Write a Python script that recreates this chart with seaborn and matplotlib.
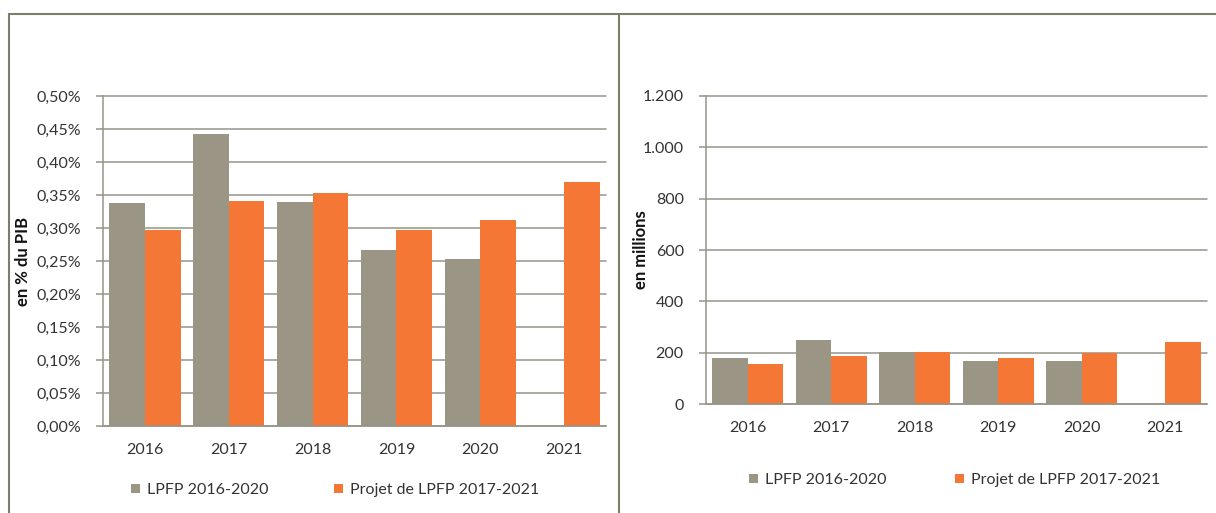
import numpy as np
import pandas as pd
import matplotlib
matplotlib.use("Agg")
import matplotlib.pyplot as plt
import seaborn as sns
from matplotlib.lines import Line2D
from matplotlib.patches import Patch
from matplotlib.ticker import FuncFormatter, FixedLocator

# ---- data ----
years = ["2016", "2017", "2018", "2019", "2020", "2021"]
series_names = ["LPFP 2016-2020", "Projet de LPFP 2017-2021"]
pct_lpfp_2016 = [0.338, 0.442, 0.339, 0.267, 0.253, np.nan]
pct_projet_2017 = [0.2965, 0.3405, 0.3535, 0.2975, 0.312, 0.370]
mio_lpfp_2016 = [179, 248, 204, 169, 169, np.nan]
mio_projet_2017 = [156, 186, 204, 179, 199, 241]
left_ticks = [0.00, 0.05, 0.10, 0.15, 0.20, 0.25, 0.30, 0.35, 0.40, 0.45, 0.50]
right_ticks = [0, 200, 400, 600, 800, 1000, 1200]

def make_df(a, b):
    rows = []
    for y, v in zip(years, a):
        rows.append({"year": y, "series": series_names[0], "value": v})
    for y, v in zip(years, b):
        rows.append({"year": y, "series": series_names[1], "value": v})
    return pd.DataFrame(rows)

df_pct = make_df(pct_lpfp_2016, pct_projet_2017)
df_mio = make_df(mio_lpfp_2016, mio_projet_2017)

sns.set_theme(style="white")
plt.rcParams["font.family"] = ["Lato", "DejaVu Sans"]

GREY = "#9B9585"
ORANGE = "#F47735"
GRID = "#95958A"
FRAME = "#7D7D6E"
TXT = "#333333"
palette = {series_names[0]: GREY, series_names[1]: ORANGE}

W, H = 1216, 513
fig = plt.figure(figsize=(W / 100, H / 100), dpi=100)

def px_axes(x0, x1, ytop, ybot):
    return fig.add_axes([x0 / W, (H - ybot) / H, (x1 - x0) / W, (ybot - ytop) / H])

axL = px_axes(103, 606, 96, 426)
axR = px_axes(706, 1207, 96, 404)

def style(ax, df, ticks, fmt):
    sns.barplot(data=df, x="year", y="value", hue="series", hue_order=series_names,
                order=years, palette=palette, width=0.85, gap=0, ax=ax,
                saturation=1, errorbar=None, legend=False, edgecolor="none")
    ax.set_xlim(-0.5, len(years) - 0.5)
    ax.set_ylim(ticks[0], ticks[-1])
    ax.yaxis.set_major_locator(FixedLocator(ticks))
    ax.yaxis.set_major_formatter(FuncFormatter(fmt))
    ax.yaxis.grid(True, color=GRID, linewidth=1.1)
    ax.set_axisbelow(True)
    for g in ax.get_ygridlines():
        g.set_clip_on(False)
    for s in ["top", "right"]:
        ax.spines[s].set_visible(False)
    for s in ["left", "bottom"]:
        ax.spines[s].set_color(GRID)
        ax.spines[s].set_linewidth(1.1)
    ax.set_xlabel("")
    ax.tick_params(axis="x", which="major", length=0, pad=12, labelsize=11.5, labelcolor=TXT)
    ax.set_xticks(np.arange(-0.5, len(years) + 0.5, 1.0), minor=True)
    ax.tick_params(axis="x", which="minor", length=5, width=1.1, color=GRID, direction="out")
    ax.tick_params(axis="y", length=5, width=1.1, color=GRID, pad=11, labelsize=11.5,
                   labelcolor=TXT, direction="out", left=True)

style(axL, df_pct, left_ticks, lambda v, p: f"{v:.2f}%".replace(".", ","))
style(axR, df_mio, right_ticks, lambda v, p: f"{int(v):,}".replace(",", "."))

axL.set_ylabel("en % du PIB", fontsize=12, fontweight="bold", color="#111111")
axR.set_ylabel("en millions", fontsize=12, fontweight="bold", color="#111111")
axL.yaxis.set_label_coords((31 - 103) / (606 - 103), 0.5)
axR.yaxis.set_label_coords((649 - 706) / (1207 - 706), 0.5)

handles = [Patch(facecolor=GREY, edgecolor="none"), Patch(facecolor=ORANGE, edgecolor="none")]
common = dict(ncol=2, frameon=False, handlelength=0.55, handleheight=0.55,
              handletextpad=0.45, prop={"size": 11.5}, labelcolor=TXT, loc="center")
fig.legend(handles, series_names, bbox_to_anchor=(335 / W, (H - 490) / H),
           columnspacing=4.1, **common)
fig.legend(handles, series_names, bbox_to_anchor=(955 / W, (H - 480) / H),
           columnspacing=4.3, **common)

# outer frame lines
def fline(x0, y0, x1, y1):
    fig.add_artist(Line2D([x0 / W, x1 / W], [(H - y0) / H, (H - y1) / H],
                          color=FRAME, linewidth=1.5, transform=fig.transFigure))

fline(9, 14, W, 14)
fline(9, 14, 9, H)
fline(619, 14, 619, H)

fig.savefig("out.png", dpi=100)
